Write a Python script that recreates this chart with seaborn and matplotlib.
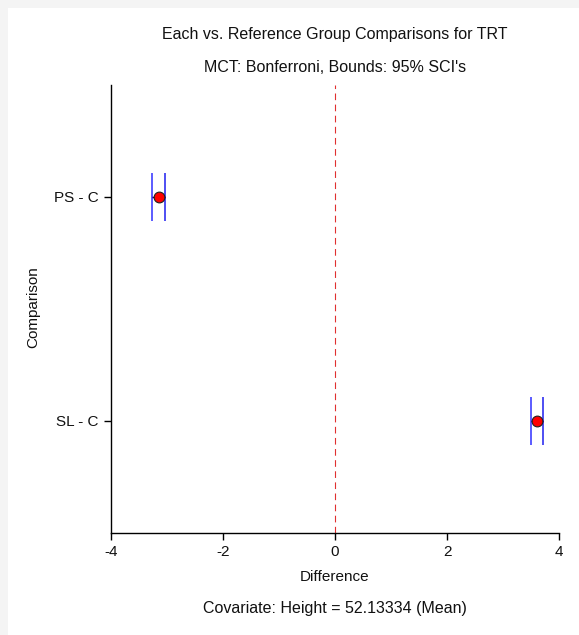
import matplotlib
matplotlib.use("Agg")
import matplotlib.pyplot as plt
import seaborn as sns
import pandas as pd

# comparison results
comparisons = ["PS - C", "SL - C"]
estimates = [-3.14, 3.61]
lower = [-3.27, 3.50]
upper = [-3.03, 3.72]

sns.set_style("ticks")
plt.rcParams['font.family'] = ['Liberation Sans', 'DejaVu Sans']
plt.rcParams['axes.unicode_minus'] = False

df = pd.DataFrame({"Comparison": comparisons, "Difference": estimates,
                   "lo": lower, "hi": upper})
df["pos"] = range(len(df))

fig = plt.figure(figsize=(5.79, 6.35), dpi=100, facecolor='#f4f4f4')
# white panel inside the light grey frame (left/top edges)
fig.patches.append(plt.Rectangle((8/579, 0), 1, 1 - 8/635, transform=fig.transFigure,
                                 facecolor='white', edgecolor='none', zorder=-1))
ax = fig.add_axes([111/579, 1 - 533/635, 448/579, 448/635])
ax.set_facecolor('none')

# reference line at zero
ax.axvline(0, color='#e03030', linestyle=(0, (6, 4)), linewidth=0.8, zorder=1)

# interval bounds and connecting line
half = 0.107
ax.vlines(df["lo"], df["pos"] - half, df["pos"] + half, color='#4040ff', linewidth=1.2, zorder=2)
ax.vlines(df["hi"], df["pos"] - half, df["pos"] + half, color='#3030f0', linewidth=1.2, zorder=2)
ax.hlines(df["pos"], df["lo"], df["hi"], color='#000060', linewidth=1.0, zorder=2)

sns.scatterplot(data=df, x="Difference", y="pos", ax=ax, color='red', s=60,
                edgecolor='#202020', linewidth=0.8, zorder=3, legend=False)

ax.set_xlim(-4, 4)
ax.set_ylim(1.5, -0.5)
ax.set_xticks([-4, -2, 0, 2, 4])
ax.set_yticks(df["pos"])
ax.set_yticklabels(df["Comparison"])
ax.tick_params(axis='both', labelsize=11, length=5, width=1, color='black',
               labelcolor='#111111', pad=4)
sns.despine(ax=ax)
for s in ['left', 'bottom']:
    ax.spines[s].set_linewidth(1.0)
    ax.spines[s].set_color('black')

ax.set_xlabel("Difference", fontsize=11, color='#111111')
ax.set_ylabel("Comparison", fontsize=11, color='#111111')
ax.xaxis.set_label_coords(0.5, -(570 - 533) / 448)
ax.yaxis.set_label_coords((40 - 111) / 448, (533 - 307) / 448)

fig.text(335/579, 1 - 35/635, "Each vs. Reference Group Comparisons for TRT",
         ha='center', va='center', fontsize=11.5, color='#111111')
fig.text(335/579, 1 - 68/635, "MCT: Bonferroni, Bounds: 95% SCI's",
         ha='center', va='center', fontsize=11.5, color='#111111')
fig.text(335/579, 1 - 608/635, "Covariate: Height = 52.13334 (Mean)",
         ha='center', va='center', fontsize=11.5, color='#111111')

fig.savefig("out.png", dpi=100, facecolor=fig.get_facecolor())
